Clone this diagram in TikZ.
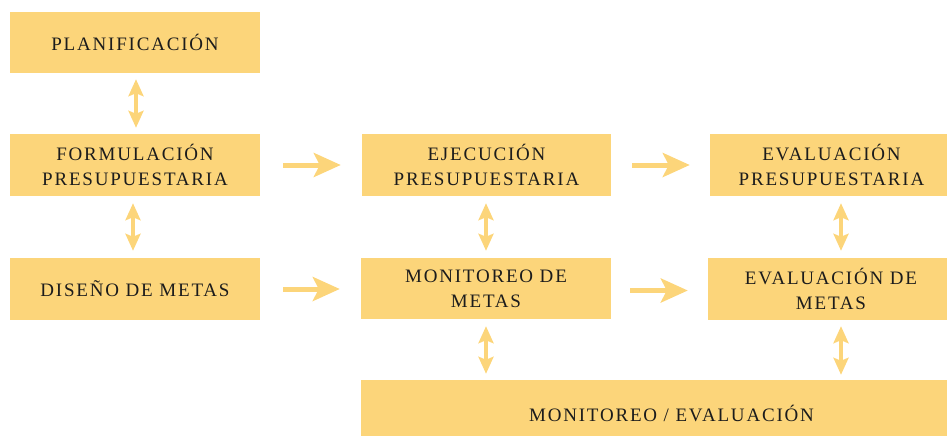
\documentclass[tikz,border=0pt]{standalone}
\usepackage{fontspec}
\setmainfont{Liberation Serif}[LetterSpace=9.5]
\usetikzlibrary{arrows.meta}
\definecolor{boxfill}{HTML}{FCD57A}
\definecolor{txt}{HTML}{1C1C1C}
\begin{document}
\begin{tikzpicture}[x=1pt,y=-1pt,
  box/.style={fill=boxfill,draw=none,inner sep=0pt,align=center,text=txt,
    font=\fontsize{19}{25}\selectfont},
  lbl/.style={inner sep=0pt,align=center,text=txt,font=\fontsize{19}{25}\selectfont},
  dbl/.style={draw=boxfill,line width=4pt,{Stealth[length=17pt,width=15pt,inset=3pt]}-{Stealth[length=17pt,width=15pt,inset=3pt]}},
  fwd/.style={draw=boxfill,line width=5pt,-{Stealth[length=27pt,width=24pt,inset=6pt]}}]
\useasboundingbox (0,0) rectangle (947,436);
\node[box,minimum width=250pt,minimum height=61pt] (plan) at (135,42.5) {PLANIFICACIÓN};
\node[box,minimum width=250pt,minimum height=62pt] (form) at (135,165) {FORMULACIÓN\\PRESUPUESTARIA};
\node[box,minimum width=250pt,minimum height=62pt] (dis) at (135,289) {DISEÑO DE METAS};
\node[box,minimum width=249pt,minimum height=62pt] (eje) at (486.5,165) {EJECUCIÓN\\PRESUPUESTARIA};
\node[box,minimum width=250pt,minimum height=61pt] (mon) at (486,288.5) {MONITOREO DE\\METAS};
\node[box,minimum width=237pt,minimum height=62pt] (evp) at (828.5,165) {};
\node[lbl] (evpt) at ([xshift=3pt]evp.center) {EVALUACIÓN\\PRESUPUESTARIA};
\node[box,minimum width=239pt,minimum height=62pt] (evm) at (827.5,289) {};
\node[lbl] (evmt) at ([xshift=3.5pt]evm.center) {EVALUACIÓN DE\\METAS};
\node[box,minimum width=586pt,minimum height=56pt] (bot) at (654,408) {};
\node[lbl] (bott) at ([xshift=17.5pt,yshift=-5pt]bot.center) {MONITOREO / EVALUACIÓN};
% vertical double arrows
\draw[dbl,shorten <=6pt,shorten >=6pt] ([xshift=1pt]plan.south) -- ([xshift=1pt]form.north);
\draw[dbl,shorten <=7pt,shorten >=7pt] ([xshift=-2pt]form.south) -- ([xshift=-2pt]dis.north);
\draw[dbl,shorten <=7pt,shorten >=7pt] ([xshift=-0.5pt]eje.south) -- ([xshift=-0.5pt]eje.south |- mon.north);
\draw[dbl,shorten <=7pt,shorten >=6pt] (mon.south) -- (mon.south |- bot.north);
\draw[dbl,shorten <=7pt,shorten >=7pt] ([xshift=12.5pt]evp.south) -- ([xshift=12.5pt]evp.south |- evm.north);
\draw[dbl,shorten <=6pt,shorten >=5pt] ([xshift=13.5pt]evm.south) -- ([xshift=13.5pt]evm.south |- bot.north);
% horizontal arrows
\draw[fwd,shorten <=23pt,shorten >=21pt] (form.east) -- (eje.west |- form.east);
\draw[fwd,shorten <=21pt,shorten >=20pt] (eje.east) -- (evp.west |- eje.east);
\draw[fwd,shorten <=23pt,shorten >=21pt] (dis.east) -- (mon.west |- dis.east);
\draw[fwd,shorten <=19pt,shorten >=20pt] ([yshift=-2pt]mon.east) -- ([yshift=-2pt]mon.east -| evm.west);
\end{tikzpicture}
\end{document}
